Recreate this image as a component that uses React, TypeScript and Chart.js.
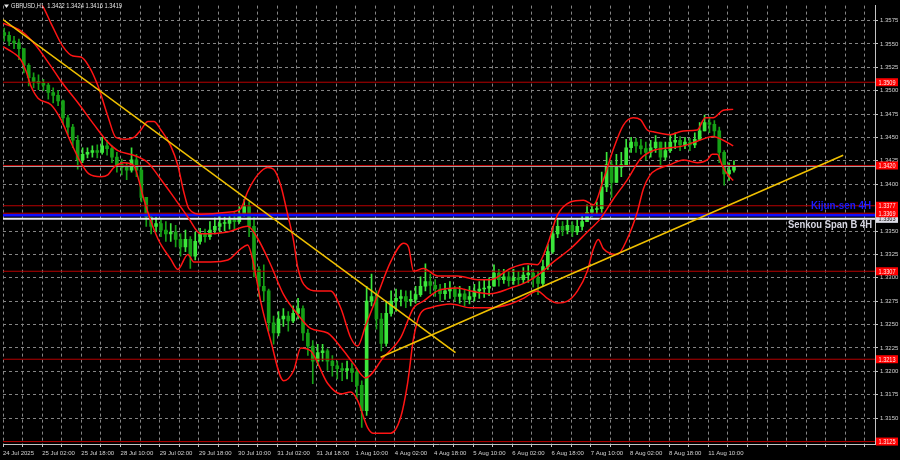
import React, { useEffect, useRef } from "react";
import { Chart, registerables } from "chart.js";

Chart.register(...registerables);

// ---------- data ----------
const titleText = "GBPUSD,H1  1.3422 1.3424 1.3416 1.3419";

const xLabels = [
  "24 Jul 2025", "25 Jul 02:00", "25 Jul 18:00", "28 Jul 10:00", "29 Jul 02:00",
  "29 Jul 18:00", "30 Jul 10:00", "31 Jul 02:00", "31 Jul 18:00", "1 Aug 10:00",
  "4 Aug 02:00", "4 Aug 18:00", "5 Aug 10:00", "6 Aug 02:00", "6 Aug 18:00",
  "7 Aug 10:00", "8 Aug 02:00", "8 Aug 18:00", "11 Aug 10:00",
];

const yTicks = [
  1.315, 1.3175, 1.32, 1.3225, 1.325, 1.3275, 1.33, 1.3325, 1.335,
  1.34, 1.3425, 1.345, 1.3475, 1.35, 1.3525, 1.355, 1.3575,
];

// two-hour candles (H1 bars grouped by two)
const firstOpen = 1.3562;
const closes = [
  1.3559, 1.3553, 1.3551, 1.3545, 1.3527, 1.3514, 1.3510, 1.3508, 1.3506, 1.3498,
  1.3495, 1.3489, 1.3471, 1.3461, 1.3447, 1.3426, 1.3432, 1.3434, 1.3436, 1.3434,
  1.3441, 1.3438, 1.3429, 1.3421, 1.3418, 1.3415, 1.3426, 1.3415, 1.3386, 1.3365,
  1.3355, 1.3358, 1.3351, 1.3347, 1.3349, 1.3341, 1.3333, 1.3341, 1.3323, 1.3339,
  1.3347, 1.3344, 1.3351, 1.3355, 1.3358, 1.3358, 1.3362, 1.3360, 1.3368, 1.3376,
  1.3355, 1.3309, 1.3291, 1.3286, 1.3252, 1.3241, 1.3256, 1.3259, 1.3254, 1.3262,
  1.3267, 1.3241, 1.3227, 1.3211, 1.3220, 1.3222, 1.3211, 1.3206, 1.3203, 1.3201,
  1.3203, 1.3199, 1.3185, 1.3158, 1.3275, 1.3280, 1.3256, 1.3230, 1.3262, 1.3275,
  1.3278, 1.3280, 1.3275, 1.3277, 1.3282, 1.3291, 1.3296, 1.3292, 1.3288, 1.3283,
  1.3286, 1.3288, 1.3280, 1.3283, 1.3277, 1.3280, 1.3286, 1.3288, 1.3289, 1.3291,
  1.3305, 1.3298, 1.3301, 1.3297, 1.3300, 1.3298, 1.3303, 1.3305, 1.3300, 1.3294,
  1.3312, 1.3328, 1.3347, 1.3355, 1.3351, 1.3356, 1.3349, 1.3355, 1.3360, 1.3370,
  1.3373, 1.3374, 1.3397, 1.3421, 1.3402, 1.3418, 1.3421, 1.3439, 1.3445, 1.3441,
  1.3438, 1.3434, 1.3439, 1.3445, 1.3429, 1.3436, 1.3445, 1.3447, 1.3442, 1.3445,
  1.3442, 1.3448, 1.3457, 1.3466, 1.3464, 1.3457, 1.3434, 1.3411, 1.3415, 1.3419,
];
const highs = [
  1.3567, 1.3563, 1.3558, 1.3555, 1.3545, 1.3529, 1.3519, 1.3517, 1.3512, 1.3508,
  1.3503, 1.3500, 1.3490, 1.3474, 1.3464, 1.3452, 1.3439, 1.3439, 1.3441, 1.3442,
  1.3450, 1.3447, 1.3441, 1.3434, 1.3427, 1.3423, 1.3439, 1.3432, 1.3418, 1.3386,
  1.3367, 1.3365, 1.3362, 1.3360, 1.3358, 1.3356, 1.3347, 1.3351, 1.3344, 1.3349,
  1.3353, 1.3352, 1.3360, 1.3364, 1.3366, 1.3365, 1.3368, 1.3370, 1.3376, 1.3384,
  1.3381, 1.3365, 1.3312, 1.3314, 1.3288, 1.3259, 1.3264, 1.3267, 1.3264, 1.3270,
  1.3278, 1.3270, 1.3245, 1.3233, 1.3229, 1.3229, 1.3224, 1.3217, 1.3211, 1.3209,
  1.3211, 1.3209, 1.3203, 1.3190, 1.3291, 1.3304, 1.3286, 1.3262, 1.3275, 1.3286,
  1.3288, 1.3287, 1.3286, 1.3286, 1.3291, 1.3301, 1.3315, 1.3304, 1.3298, 1.3293,
  1.3294, 1.3296, 1.3291, 1.3291, 1.3288, 1.3291, 1.3293, 1.3296, 1.3298, 1.3300,
  1.3314, 1.3309, 1.3309, 1.3307, 1.3309, 1.3307, 1.3311, 1.3313, 1.3309, 1.3307,
  1.3319, 1.3336, 1.3355, 1.3362, 1.3360, 1.3362, 1.3360, 1.3362, 1.3368, 1.3378,
  1.3378, 1.3381, 1.3413, 1.3434, 1.3425, 1.3432, 1.3434, 1.3448, 1.3450, 1.3449,
  1.3448, 1.3445, 1.3447, 1.3452, 1.3445, 1.3445, 1.3453, 1.3455, 1.3451, 1.3450,
  1.3449, 1.3455, 1.3466, 1.3474, 1.3472, 1.3468, 1.3461, 1.3436, 1.3423, 1.3425,
];
const lows = [
  1.3553, 1.3548, 1.3545, 1.3533, 1.3519, 1.3505, 1.3503, 1.3501, 1.3500, 1.3491,
  1.3487, 1.3484, 1.3464, 1.3453, 1.3439, 1.3416, 1.3423, 1.3428, 1.3429, 1.3428,
  1.3432, 1.3431, 1.3423, 1.3413, 1.3410, 1.3405, 1.3413, 1.3408, 1.3381, 1.3355,
  1.3347, 1.3349, 1.3344, 1.3339, 1.3339, 1.3333, 1.3323, 1.3328, 1.3310, 1.3319,
  1.3336, 1.3338, 1.3341, 1.3347, 1.3349, 1.3350, 1.3352, 1.3351, 1.3358, 1.3366,
  1.3344, 1.3301, 1.3280, 1.3275, 1.3243, 1.3229, 1.3238, 1.3248, 1.3243, 1.3252,
  1.3256, 1.3233, 1.3217, 1.3187, 1.3206, 1.3211, 1.3201, 1.3195, 1.3192, 1.3190,
  1.3192, 1.3189, 1.3171, 1.3140, 1.3153, 1.3270, 1.3245, 1.3222, 1.3227, 1.3259,
  1.3264, 1.3270, 1.3268, 1.3270, 1.3273, 1.3280, 1.3286, 1.3283, 1.3280, 1.3275,
  1.3277, 1.3278, 1.3275, 1.3273, 1.3270, 1.3272, 1.3275, 1.3278, 1.3279, 1.3281,
  1.3291, 1.3291, 1.3294, 1.3291, 1.3293, 1.3292, 1.3294, 1.3295, 1.3290, 1.3282,
  1.3291, 1.3309, 1.3326, 1.3343, 1.3345, 1.3347, 1.3344, 1.3346, 1.3351, 1.3360,
  1.3365, 1.3367, 1.3370, 1.3392, 1.3386, 1.3402, 1.3408, 1.3423, 1.3434, 1.3434,
  1.3432, 1.3426, 1.3429, 1.3434, 1.3421, 1.3426, 1.3434, 1.3438, 1.3436, 1.3438,
  1.3436, 1.3439, 1.3447, 1.3457, 1.3455, 1.3450, 1.3423, 1.3399, 1.3404, 1.3413,
];

// Bollinger bands: [H1 bar index, price]
const upperBand = [
  [0, 1.3606], [7.3, 1.3601], [15.5, 1.3593], [19.6, 1.3572], [24.5, 1.3547], [28.6, 1.3537],
  [31.8, 1.3536], [35.1, 1.3526], [38.8, 1.3505], [42.8, 1.3473], [46.1, 1.345], [50.2, 1.3448],
  [53.4, 1.345], [56.3, 1.3458], [59.2, 1.3467], [61.6, 1.3467], [64.5, 1.3458], [68.5, 1.3441],
  [71.4, 1.342], [73.8, 1.3392], [75.9, 1.3374], [80.8, 1.3368], [91.8, 1.337], [97.1, 1.3374],
  [99.9, 1.3392], [104.0, 1.341], [108.1, 1.3418], [110.5, 1.3416], [113.4, 1.3399], [116.3, 1.3367],
  [118.7, 1.3339], [120.3, 1.3312], [122.8, 1.3293], [128.5, 1.3286], [133.8, 1.3286], [137.9, 1.3268],
  [142.0, 1.3236], [144.8, 1.3227], [148.1, 1.3249], [153.0, 1.3282], [158.3, 1.3317], [163.6, 1.3337],
  [165.6, 1.3333], [167.7, 1.3307], [171.7, 1.331], [177.5, 1.3302], [185.6, 1.3302], [193.8, 1.3298],
  [199.1, 1.3298], [207.2, 1.331], [214.2, 1.3315], [218.2, 1.3314], [222.3, 1.3335], [226.4, 1.3367],
  [231.7, 1.3381], [237.0, 1.3383], [241.1, 1.3378], [245.2, 1.3405], [249.2, 1.3437], [253.3, 1.3463],
  [257.4, 1.3471], [260.3, 1.3469], [263.1, 1.3458], [265.6, 1.3456], [272.5, 1.3453], [277.8, 1.3457],
  [283.5, 1.3458], [286.8, 1.3471], [290.0, 1.3471], [294.1, 1.3479], [298.2, 1.348],
];
const middleBand = [
  [0, 1.3572], [7.3, 1.3564], [12.6, 1.3551], [19.6, 1.3526], [23.7, 1.351], [30.6, 1.3487],
  [37.1, 1.3464], [42.8, 1.3445], [46.9, 1.3436], [53.4, 1.3431], [59.2, 1.3423], [64.5, 1.3405],
  [69.8, 1.3386], [75.5, 1.3365], [80.8, 1.3347], [91.8, 1.3349], [99.9, 1.3355], [104.0, 1.3342],
  [109.3, 1.3314], [114.6, 1.3282], [120.3, 1.3261], [125.6, 1.3246], [132.6, 1.3241], [139.1, 1.3222],
  [143.2, 1.3208], [148.1, 1.3193], [155.4, 1.3215], [162.4, 1.3236], [167.7, 1.3268], [171.7, 1.3275],
  [177.5, 1.3286], [185.6, 1.3289], [190.9, 1.3286], [199.1, 1.3283], [207.2, 1.3289], [214.2, 1.3296],
  [219.5, 1.3305], [224.8, 1.3317], [231.7, 1.3331], [238.6, 1.3349], [243.9, 1.3363], [249.2, 1.3384],
  [255.0, 1.3405], [260.3, 1.3427], [265.6, 1.3436], [272.5, 1.3439], [277.8, 1.3441], [283.5, 1.3446],
  [290.0, 1.3451], [294.1, 1.3447], [298.2, 1.3441],
];
const lowerBand = [
  [0, 1.3547], [4.5, 1.354], [7.3, 1.3533], [9.4, 1.3521], [11.4, 1.3505], [14.3, 1.3492],
  [19.6, 1.3485], [23.7, 1.3469], [27.7, 1.3445], [31.8, 1.3423], [35.1, 1.3411], [40.0, 1.3408],
  [42.8, 1.341], [45.3, 1.3418], [49.4, 1.3423], [53.4, 1.342], [55.5, 1.3404], [57.5, 1.3384],
  [63.2, 1.3342], [68.5, 1.332], [71.4, 1.3309], [75.5, 1.3325], [77.9, 1.3317], [84.8, 1.3317],
  [91.8, 1.3319], [97.1, 1.3331], [99.9, 1.3335], [102.4, 1.3314], [105.2, 1.3275], [109.3, 1.3233],
  [114.6, 1.319], [118.7, 1.3201], [121.6, 1.3225], [125.6, 1.3222], [132.6, 1.3187], [137.9, 1.3176],
  [142.0, 1.3178], [144.8, 1.3169], [148.9, 1.314], [151.3, 1.3134], [158.3, 1.3134], [162.4, 1.3151],
  [165.2, 1.3187], [167.7, 1.3236], [170.5, 1.3262], [174.6, 1.3268], [182.8, 1.3272], [190.9, 1.3268],
  [199.1, 1.3268], [207.2, 1.3272], [212.5, 1.3278], [218.2, 1.3286], [222.3, 1.3278], [226.4, 1.3273],
  [230.5, 1.3275], [234.6, 1.3286], [238.6, 1.3307], [241.1, 1.3331], [243.1, 1.3341], [245.2, 1.3331],
  [248.0, 1.3326], [250.9, 1.3325], [255.0, 1.3342], [259.0, 1.337], [261.5, 1.3395], [264.3, 1.341],
  [267.2, 1.3416], [272.5, 1.3421], [277.8, 1.3426], [283.5, 1.3423], [287.6, 1.3426], [289.6, 1.3432],
  [291.7, 1.3432], [293.7, 1.342], [295.8, 1.3411], [298.2, 1.3404],
];

const downTrend = [[0, 1.3576], [184.8, 1.322]];
const upTrend = [[154.2, 1.3215], [343.1, 1.3431]];

const redLevels = [1.3509, 1.342, 1.3377, 1.3369, 1.3307, 1.3213, 1.3125];
const kijunSen = 1.3367;
const senkouSpanB = 1.3363;
const bidPrice = 1.3419;

// ---------- layout / style ----------
const X_MIN = 0;
const X_MAX = 356.1;
const Y_MIN = 1.31224;
const Y_MAX = 1.35909;
const HOURS_PER_CANDLE = 2;
const FONT = "'Liberation Sans', Arial, sans-serif";
const GRID = "#858585";
const AXIS = "#c4c4c4";
const LABEL = "#d2d2d2";
const UP = "#3be63b";
const DOWN = "#16a016";

const xTickValues: number[] = [];
for (let v = 0; v <= X_MAX; v += 8) xTickValues.push(v);

function drawFitted(ctx: CanvasRenderingContext2D, text: string, x: number, y: number, width: number, align: "left" | "right" | "center") {
  const w = ctx.measureText(text).width || 1;
  const sx = width / w;
  ctx.save();
  ctx.translate(x, y);
  ctx.scale(sx, 1);
  ctx.textAlign = align;
  ctx.fillText(text, 0, 0);
  ctx.restore();
}

const overlayPlugin = {
  id: "mtOverlay",
  afterDraw(chart: any) {
    const { ctx, chartArea } = chart;
    const y = chart.scales.y;
    ctx.save();
    ctx.textBaseline = "middle";

    // title
    ctx.fillStyle = "#e4e4e4";
    ctx.beginPath();
    ctx.moveTo(4, 4.5);
    ctx.lineTo(9, 4.5);
    ctx.lineTo(6.5, 8);
    ctx.closePath();
    ctx.fill();
    ctx.font = `7px ${FONT}`;
    drawFitted(ctx, titleText, 11, 6.5, 111, "left");

    // level labels on the price axis
    const bx = chartArea.right + 1;
    const bw = 22;
    const sy = y.getPixelForValue(senkouSpanB);
    ctx.fillStyle = "#dcdce6";
    ctx.fillRect(bx, sy - 4, bw, 8);
    ctx.fillStyle = "#222";
    ctx.font = `7px ${FONT}`;
    drawFitted(ctx, senkouSpanB.toFixed(4), bx + bw / 2, sy + 0.5, 17, "center");
    for (const v of redLevels) {
      const py = y.getPixelForValue(v);
      ctx.fillStyle = "#ff0000";
      ctx.fillRect(bx, py - 4, bw, 8);
      ctx.fillStyle = "#ffe8e8";
      drawFitted(ctx, v.toFixed(4), bx + bw / 2, py + 0.5, 17, "center");
    }

    // indicator names
    const ky = y.getPixelForValue(kijunSen);
    ctx.font = `bold 11px ${FONT}`;
    ctx.fillStyle = "#1c1cff";
    drawFitted(ctx, "Kijun-sen 4H", chartArea.right - 4, ky - 9, 60, "right");
    ctx.fillStyle = "#d6d6e2";
    drawFitted(ctx, "Senkou Span B 4H", chartArea.right - 3, sy + 6, 84, "right");
    ctx.restore();
  },
};

const opens = closes.map((c, i) => (i === 0 ? firstOpen : closes[i - 1]));
const candleX = closes.map((_, i) => i * HOURS_PER_CANDLE + 0.5);
const candleColors = closes.map((c, i) => (c >= opens[i] ? UP : DOWN));

const pts = (arr: number[][]) => arr.map(([x, v]) => ({ x, y: v }));
const hline = (v: number) => [{ x: X_MIN, y: v }, { x: X_MAX, y: v }];

const lineBase = { type: "line", pointRadius: 0, pointHoverRadius: 0, fill: false, tension: 0 };

export default function App() {
  const ref = useRef<HTMLCanvasElement>(null);
  useEffect(() => {
    document.body.style.margin = "0";
    document.body.style.background = "#000";
    const datasets: any[] = [
      { ...lineBase, label: "down", data: pts(downTrend), borderColor: "#f0c000", borderWidth: 1.6, order: 0 },
      { ...lineBase, label: "up", data: pts(upTrend), borderColor: "#f0c000", borderWidth: 1.6, order: 0 },
      { ...lineBase, label: "upper", data: pts(upperBand), borderColor: "#ff1414", borderWidth: 1.5, cubicInterpolationMode: "monotone", order: 1 },
      { ...lineBase, label: "middle", data: pts(middleBand), borderColor: "#ff1414", borderWidth: 1.5, cubicInterpolationMode: "monotone", order: 1 },
      { ...lineBase, label: "lower", data: pts(lowerBand), borderColor: "#ff1414", borderWidth: 1.5, cubicInterpolationMode: "monotone", order: 1 },
      ...redLevels.map((v) => ({ ...lineBase, label: "lvl" + v, data: hline(v), borderColor: "#b80000", borderWidth: 1, order: 2 })),
      { ...lineBase, label: "bid", data: hline(bidPrice), borderColor: "#a8a8a8", borderWidth: 1, order: 2 },
      { ...lineBase, label: "kijun", data: hline(kijunSen), borderColor: "#0f0fff", borderWidth: 2.6, order: 2 },
      { ...lineBase, label: "senkou", data: hline(senkouSpanB), borderColor: "#e6e6f0", borderWidth: 2, order: 2 },
      {
        type: "bar", label: "bodies", order: 3, grouped: false, barThickness: 3, minBarLength: 1, borderWidth: 0,
        data: candleX.map((x, i) => ({ x, y: [opens[i], closes[i]] })),
        backgroundColor: candleColors,
      },
      {
        type: "bar", label: "wicks", order: 4, grouped: false, barThickness: 1, borderWidth: 0,
        data: candleX.map((x, i) => ({
          x,
          y: [Math.min(lows[i], opens[i], closes[i]), Math.max(highs[i], opens[i], closes[i])],
        })),
        backgroundColor: candleColors,
      },
    ];

    const chart = new Chart(ref.current as HTMLCanvasElement, {
      type: "bar",
      data: { datasets },
      options: {
        responsive: false,
        animation: false,
        devicePixelRatio: 1,
        events: [],
        layout: { padding: { left: 2, top: 2, right: 0, bottom: 0 } },
        plugins: { legend: { display: false }, tooltip: { enabled: false }, title: { display: false } },
        scales: {
          x: {
            type: "linear",
            min: X_MIN,
            max: X_MAX,
            offset: false,
            afterBuildTicks: (s: any) => { s.ticks = xTickValues.map((v) => ({ value: v })); },
            afterFit: (s: any) => { s.height = 16; },
            grid: { color: GRID, lineWidth: 1, drawTicks: true, tickLength: 3, tickColor: AXIS, tickBorderDash: [], offset: false },
            border: { display: true, color: AXIS, width: 1, dash: [3, 3] },
            ticks: {
              autoSkip: false, maxRotation: 0, minRotation: 0, align: "start", padding: 3,
              color: LABEL, font: { size: 6, family: FONT },
              callback: (v: any) => {
                const n = Number(v);
                if (n % 16 !== 0) return "";
                return xLabels[n / 16] ?? "";
              },
            },
          },
          y: {
            type: "linear",
            position: "right",
            min: Y_MIN,
            max: Y_MAX,
            afterBuildTicks: (s: any) => { s.ticks = yTicks.map((v) => ({ value: v })); },
            afterFit: (s: any) => { s.width = 25; },
            grid: { color: GRID, lineWidth: 1, drawTicks: true, tickLength: 3, tickColor: AXIS, tickBorderDash: [] },
            border: { display: true, color: AXIS, width: 1, dash: [3, 3] },
            ticks: {
              padding: 2, color: LABEL, font: { size: 6, family: FONT },
              callback: (v: any) => Number(v).toFixed(4),
            },
          },
        },
      } as any,
      plugins: [overlayPlugin],
    } as any);
    return () => chart.destroy();
  }, []);

  return (
    <div style={{ position: "absolute", left: 0, top: 0, width: 900, height: 460, background: "#000" }}>
      <canvas ref={ref} width={900} height={460} style={{ display: "block", width: 900, height: 460 }} />
    </div>
  );
}
